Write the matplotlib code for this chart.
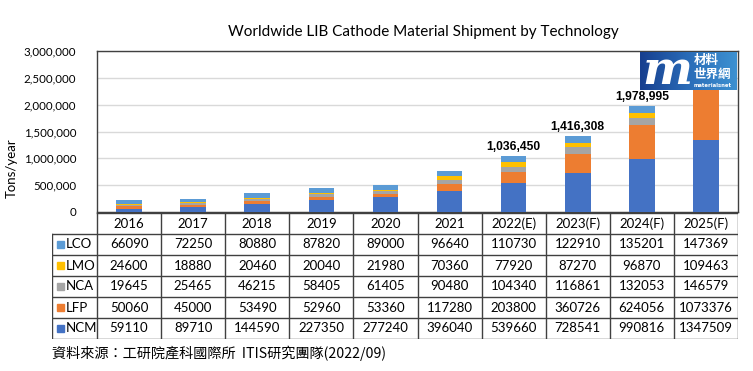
import numpy as np
import matplotlib.pyplot as plt
from matplotlib.patches import Rectangle
from matplotlib.colors import LinearSegmentedColormap

years = ['2016', '2017', '2018', '2019', '2020', '2021',
         '2022(E)', '2023(F)', '2024(F)', '2025(F)']
NCM = [59110, 89710, 144590, 227350, 277240, 396040, 539660, 728541, 990816, 1347509]
LFP = [50060, 45000, 53490, 52960, 53360, 117280, 203800, 360726, 624056, 1073376]
NCA = [19645, 25465, 46215, 58405, 61405, 90480, 104340, 116861, 132053, 146579]
LMO = [24600, 18880, 20460, 20040, 21980, 70360, 77920, 87270, 96870, 109463]
LCO = [66090, 72250, 80880, 87820, 89000, 96640, 110730, 122910, 135201, 147369]
# totals as printed on the chart (source rounds 2024 down by one)
total_labels = {'2022(E)': '1,036,450', '2023(F)': '1,416,308', '2024(F)': '1,978,995'}

series = [('NCM', NCM, '#4472C4'), ('LFP', LFP, '#ED7D31'), ('NCA', NCA, '#A5A5A5'),
          ('LMO', LMO, '#FFC000'), ('LCO', LCO, '#5B9BD5')]

W, H = 753, 371
fig = plt.figure(figsize=(W / 100, H / 100), dpi=100)
body = 'Lato'
line_c = '#404040'

def fx(px):
    return px / W

def fy(py):
    return 1 - py / H

# main chart
ax = fig.add_axes([fx(97), fy(212), fx(738) - fx(97), fy(51) - fy(212)])
x = np.arange(len(years))
bottom = np.zeros(len(years))
for name, vals, col in series:
    ax.bar(x, vals, 0.4, bottom=bottom, color=col, zorder=3)
    bottom += np.array(vals)

for i, yr in enumerate(years):
    if yr in total_labels:
        ax.text(x[i], bottom[i] + 60000, total_labels[yr], ha='center', va='bottom',
                fontsize=8.7, fontweight='bold', family='Liberation Sans', zorder=4)

ax.set_xlim(-0.5, len(years) - 0.5)
ax.set_ylim(0, 3000000)
ax.set_yticks(np.arange(0, 3000001, 500000))
ax.set_yticklabels([f'{v:,}' for v in range(0, 3000001, 500000)], family=body, fontsize=8.3)
ax.tick_params(axis='y', length=0, pad=15)
ax.set_xticks([])
ax.grid(axis='y', color='#D9D9D9', linewidth=1, zorder=0)
for s in ax.spines.values():
    s.set_color(line_c)
    s.set_linewidth(1)

fig.text(fx(12), fy(168), 'Tons/year', rotation=90, ha='center', va='center',
         family=body, fontsize=9.5)
fig.text(fx(423), fy(32), 'Worldwide LIB Cathode Material Shipment by Technology',
         ha='center', va='center', family=body, fontsize=11)

# data table
tab = fig.add_axes([fx(52), fy(339), fx(738) - fx(52), fy(213) - fy(339)])
lab_w = 45 / 64.1
tab.set_xlim(-0.5 - lab_w, len(years) - 0.5)
tab.set_ylim(6, 0)
tab.axis('off')
tab.plot([-0.5, len(years) - 0.5], [0, 0], color=line_c, lw=1)
for r in range(1, 7):
    tab.plot([-0.5 - lab_w, len(years) - 0.5], [r, r], color=line_c, lw=1)
tab.plot([-0.5 - lab_w] * 2, [1, 6], color=line_c, lw=1)
for k in range(len(years) + 1):
    tab.plot([k - 0.5] * 2, [0, 6], color=line_c, lw=1)

for i, yr in enumerate(years):
    tab.text(i, 0.5, yr, ha='center', va='center', family=body, fontsize=9.5)

rows = series[::-1]
for r, (name, vals, col) in enumerate(rows, start=1):
    tab.add_patch(Rectangle((-0.5 - lab_w + 0.08, r + 0.35), 0.1, 0.3, color=col))
    tab.text(-0.5 - lab_w + 0.22, r + 0.5, name, ha='left', va='center', family=body, fontsize=9.5)
    for i, v in enumerate(vals):
        tab.text(i, r + 0.5, str(v), ha='center', va='center', family=body, fontsize=9.5)

fig.text(fx(52), fy(353), '資料來源：工研院產科國際所  ITIS研究團隊(2022/09)', ha='left', va='center',
         family=['Noto Sans CJK TC', 'DejaVu Sans'], fontsize=10.2)

# logo
logo = fig.add_axes([fx(640), fy(90), fx(737) - fx(640), fy(52) - fy(90)], zorder=5)
grad = np.linspace(0, 1, 200).reshape(1, -1)
cmap = LinearSegmentedColormap.from_list('lg', ['#173F8F', '#2A6CB8', '#3D91D1'])
logo.imshow(grad, aspect='auto', cmap=cmap, extent=[0, 1, 0, 1])
logo.set_xlim(0, 1)
logo.set_ylim(0, 1)
logo.axis('off')
logo.text(0.28, 0.5, 'm', color='white', fontsize=34, fontweight='bold', style='italic',
          family='DejaVu Serif', ha='center', va='center', clip_on=True)
logo.text(0.55, 0.78, '材料', color='white', fontsize=9, fontweight='bold',
          family='Noto Sans CJK TC', ha='left', va='center')
logo.text(0.55, 0.42, '世界網', color='white', fontsize=9, fontweight='bold',
          family='Noto Sans CJK TC', ha='left', va='center')
logo.text(0.55, 0.11, 'materialsnet', color='white', fontsize=3.8, fontweight='bold',
          family='DejaVu Sans', ha='left', va='center')

fig.savefig('out.png', dpi=100)
